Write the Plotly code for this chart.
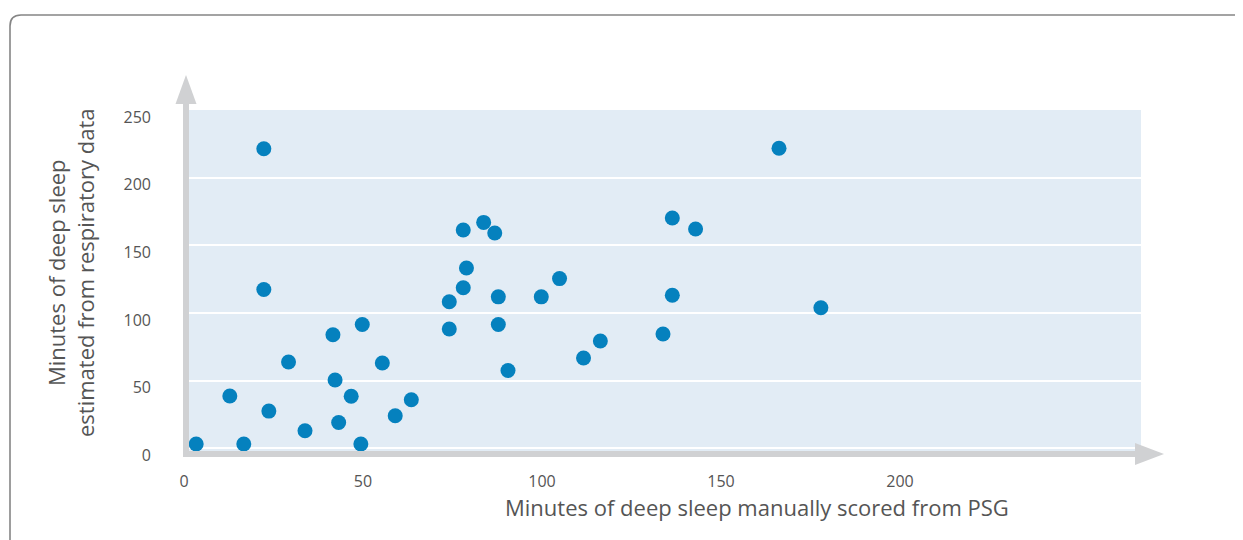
import plotly.graph_objects as go

# Data
psg_minutes = [22.3, 22.3, 41.6, 49.8, 29.2, 55.4, 12.8, 42.2, 46.7, 23.7,
               59.0, 33.8, 43.2, 3.4, 16.7, 49.4, 63.5, 78.0, 83.7, 86.8,
               78.9, 78.0, 74.1, 87.8, 99.8, 104.9, 74.1, 87.8, 116.3, 111.6,
               90.5, 166.2, 136.4, 142.9, 136.4, 177.9, 133.8]
resp_minutes = [221.5, 117.3, 83.9, 91.5, 63.7, 63.0, 38.6, 50.4, 38.4, 27.4,
                23.9, 12.8, 19.0, 3.0, 3.0, 3.0, 35.8, 161.4, 167.0, 159.1,
                133.3, 118.6, 108.3, 111.9, 111.9, 125.4, 88.1, 91.5, 79.2, 66.7,
                57.4, 221.8, 170.2, 162.1, 113.1, 103.8, 84.4]
x_ticks = [0, 50, 100, 150, 200]
y_ticks = [0, 50, 100, 150, 200, 250]
x_title = "Minutes of deep sleep manually scored from PSG"
y_title = "Minutes of deep sleep<br>estimated from respiratory data"

# page body has an 8px default margin; work in screen pixels and convert
OFF = 8
W, H = 1243 - OFF, 540 - OFF
L, R, T, B = 184, 1141, 110, 452  # plot area in screen pixels


def px(p):
    return (p - L) / (R - L)


def py(p):
    return (B - p) / (B - T)


FONT = "Open Sans"
TXT = "#555555"
AX = "#d0d1d3"

fig = go.Figure()
fig.add_trace(go.Scatter(
    x=psg_minutes, y=resp_minutes, mode="markers",
    marker=dict(size=15, color="#0581be", line=dict(width=0)),
    hoverinfo="x+y", showlegend=False,
))

shapes = []
# outer rounded border
shapes.append(dict(
    type="path", xref="paper", yref="paper",
    path=(f"M {px(10)} {py(560)} L {px(10)} {py(26)} "
          f"Q {px(10)} {py(15)} {px(21)} {py(15)} L {px(1260)} {py(15)}"),
    line=dict(color="#858585", width=1.6), layer="above",
))
# y axis arrow
shapes.append(dict(type="line", xref="paper", yref="paper",
                   x0=px(186), x1=px(186), y0=py(457), y1=py(100),
                   line=dict(color=AX, width=6), layer="above"))
shapes.append(dict(type="path", xref="paper", yref="paper",
                   path=f"M {px(175.5)} {py(104)} L {px(186)} {py(75)} L {px(196.5)} {py(104)} Z",
                   fillcolor=AX, line=dict(width=0), layer="above"))
# x axis arrow
shapes.append(dict(type="line", xref="paper", yref="paper",
                   x0=px(183), x1=px(1140), y0=py(454), y1=py(454),
                   line=dict(color=AX, width=6), layer="above"))
shapes.append(dict(type="path", xref="paper", yref="paper",
                   path=f"M {px(1135)} {py(443)} L {px(1164)} {py(454)} L {px(1135)} {py(465)} Z",
                   fillcolor=AX, line=dict(width=0), layer="above"))

annotations = [
    dict(text=x_title, xref="paper", yref="paper", x=px(757), y=py(507),
         xanchor="center", yanchor="middle", showarrow=False,
         font=dict(family=FONT, size=22, color=TXT)),
    dict(text=y_title, xref="paper", yref="paper", x=px(70), y=py(273),
         xanchor="center", yanchor="middle", showarrow=False, textangle=-90,
         font=dict(family=FONT, size=22, color=TXT)),
]

fig.update_layout(
    width=W, height=H,
    margin=dict(l=L - OFF, r=W - (R - OFF), t=T - OFF, b=H - (B - OFF), pad=0),
    paper_bgcolor="white",
    plot_bgcolor="#e2ecf5",
    font=dict(family=FONT, size=16, color=TXT),
    shapes=shapes,
    annotations=annotations,
    xaxis=dict(range=[0, (R - L) / 3.58], tickvals=x_ticks, showgrid=False,
               zeroline=False, showline=False, ticks="",
               ticklabelstandoff=18,
               tickfont=dict(family=FONT, size=16, color=TXT)),
    yaxis=dict(range=[-(B - 448.1) / 1.356, (448.1 - T) / 1.356 + 0.8],
               tickvals=y_ticks, showgrid=True, gridcolor="white", gridwidth=1.5,
               zeroline=False, showline=False, ticks="",
               ticklabelstandoff=32, ticklabelshift=7,
               tickfont=dict(family=FONT, size=16, color=TXT)),
)

fig.write_html("out.html")
